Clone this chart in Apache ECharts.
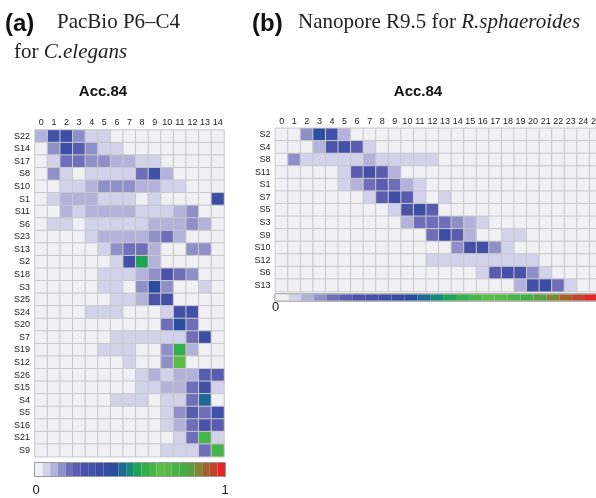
<!DOCTYPE html>
<html>
<head>
<meta charset="utf-8">
<script src="https://cdn.jsdelivr.net/npm/echarts@6/dist/echarts.min.js"></script>
<style>
html,body{margin:0;padding:0;background:#fff;}
#chart{width:596px;height:498px;}
</style>
</head>
<body>
<div id="chart"></div>
<script>
// ---------- data ----------
const leftCols = ['0','1','2','3','4','5','6','7','8','9','10','11','12','13','14'];
const leftRows = ['S22','S14','S17','S8','S10','S1','S11','S6','S23','S13','S2','S18','S3','S25','S24','S20','S7','S19','S12','S26','S15','S4','S5','S16','S21','S9'];
const leftValues = [
  [.10,.30,.32,.14,.06,.06,0,0,0,0,0,0,0,0,0],
  [0,.14,.34,.22,.14,.06,.06,0,0,0,0,0,0,0,0],
  [0,.06,.18,.18,.14,.14,.10,.10,.06,.06,0,0,0,0,0],
  [0,.14,.06,0,.06,.06,.06,.06,.18,.30,.10,0,0,0,0],
  [0,0,.06,.06,.10,.14,.14,.14,.10,.10,.06,.06,0,0,0],
  [0,.06,.10,.10,.10,.06,.06,.06,0,.06,0,0,0,0,.34],
  [0,0,.10,.06,.10,.10,.10,.10,.06,.06,.06,.10,.14,0,0],
  [0,.06,.06,0,.06,.06,.06,.06,.06,.10,.10,.10,.14,.10,0],
  [0,0,0,0,.06,.10,.10,.10,.10,.14,.18,.10,0,0,0],
  [0,0,0,0,0,.06,.14,.18,.18,.10,0,0,.14,.14,0],
  [0,0,0,0,0,0,.06,.30,.54,.10,0,0,0,0,0],
  [0,0,0,0,0,.06,.06,.06,.10,.14,.26,.18,.14,0,0],
  [0,0,0,0,0,.06,.06,0,.14,.42,.14,0,0,.06,0],
  [0,0,0,0,0,0,.06,.06,.10,.26,.30,0,0,0,0],
  [0,0,0,0,.06,.06,.06,0,0,0,.06,.30,.30,0,0],
  [0,0,0,0,0,0,0,0,0,0,.18,.42,.18,0,0],
  [0,0,0,0,0,0,.06,.06,.06,.06,.06,.06,.18,.34,0],
  [0,0,0,0,0,.06,.06,.06,0,0,.14,.58,.10,0,0],
  [0,0,0,0,0,0,0,.06,0,0,.14,.66,0,0,0],
  [0,0,0,0,0,0,0,0,.06,.10,.06,.10,.10,.22,.22],
  [0,0,0,0,0,0,0,0,.06,.06,.10,.10,.18,.30,.06],
  [0,0,0,0,0,0,.06,.06,.06,0,.06,.06,.18,.46,0],
  [0,0,0,0,0,0,0,0,0,0,.06,.14,.22,.18,.30],
  [0,0,0,0,0,0,0,0,0,0,.06,.10,.18,.26,.22],
  [0,0,0,0,0,0,0,0,0,0,0,.06,.18,.62,.06],
  [0,0,0,0,0,0,0,0,0,0,.06,.06,.06,.18,.62]
];
const rightCols = ['0','1','2','3','4','5','6','7','8','9','10','11','12','13','14','15','16','17','18','19','20','21','22','23','24','25'];
const rightRows = ['S2','S4','S8','S11','S1','S7','S5','S3','S9','S10','S12','S6','S13'];
const rightValues = [
  [0,0,.14,.42,.30,.10,0,0,0,0,0,0,0,0,0,0,0,0,0,0,0,0,0,0,0,0],
  [0,0,0,.10,.26,.30,.22,.06,0,0,0,0,0,0,0,0,0,0,0,0,0,0,0,0,0,0],
  [0,.14,.06,.06,.06,.06,.06,.10,.06,.06,.06,.06,.06,0,0,0,0,0,0,0,0,0,0,0,0,0],
  [0,0,0,0,0,.06,.22,.30,.22,.10,0,0,0,0,0,0,0,0,0,0,0,0,0,0,0,0],
  [0,0,0,0,0,.06,.10,.18,.22,.18,.10,.06,0,0,0,0,0,0,0,0,0,0,0,0,0,0],
  [0,0,0,0,0,0,0,.06,.22,.34,.22,.06,0,.06,0,0,0,0,0,0,0,0,0,0,0,0],
  [0,0,0,0,0,0,0,0,0,.06,.26,.34,.22,0,0,0,0,0,0,0,0,0,0,0,0,0],
  [0,0,0,0,0,0,0,0,0,0,.10,.18,.18,.18,.14,.10,.06,0,0,0,0,0,0,0,0,0],
  [0,0,0,0,0,0,0,0,0,0,0,0,.18,.34,.22,.10,0,0,.06,.06,0,0,0,0,0,0],
  [0,0,0,0,0,0,0,0,0,0,0,0,0,0,.14,.30,.30,.14,.06,0,0,0,0,0,0,0],
  [0,0,0,0,0,0,0,0,0,0,0,0,.06,.06,.06,.06,.06,.06,.06,.06,.06,0,0,0,0,0],
  [0,0,0,0,0,0,0,0,0,0,0,0,0,0,0,0,.06,.22,.30,.26,.14,.06,0,0,0,0],
  [0,0,0,0,0,0,0,0,0,0,0,0,0,0,0,0,0,0,0,.10,.30,.34,.18,.06,0,0]
];
// discrete colour scale (25 steps over 0..1)
const colorSteps = ['#f0f0f5','#d2d2ea','#b2b2da','#9090c8','#6e6eb9','#5a5cb0','#4b53a9','#4350a7','#3c4da5','#364ca3','#2a4d9f','#1e6896','#168a78','#1ea456','#34ad4c','#48b54a','#5cbc48','#58b948','#48b246','#42ad44','#5c9c44','#818634','#a2622c','#c3432d','#e62626'];
const scaleLabels = ['0','1'];

// ---------- build ----------
function toCells(values){
  const out = [];
  values.forEach((row, r) => row.forEach((v, c) => out.push([c, r, v])));
  return out;
}
const step = 1 / colorSteps.length;
const pieces = colorSteps.map((col, i) => i === colorSteps.length - 1
  ? {gte: i * step, lte: 1, color: col}
  : {gte: i * step, lt: (i + 1) * step, color: col});

const FONT = '"Liberation Sans", Arial, Helvetica, sans-serif';
const SERIF = '"Liberation Serif", "Times New Roman", serif';

function xAxis(idx, data, margin){
  return {type:'category', gridIndex: idx, data, position:'top',
    axisLine:{show:false}, axisTick:{show:false}, splitLine:{show:false},
    axisLabel:{interval:0, fontSize:9, color:'#222', fontFamily:FONT, margin}};
}
function yAxis(idx, data){
  return {type:'category', gridIndex: idx, data, inverse:true,
    axisLine:{show:false}, axisTick:{show:false}, splitLine:{show:false},
    axisLabel:{interval:0, fontSize:9, color:'#222', fontFamily:FONT, margin:5}};
}
const cellStyle = {borderColor:'#c8c8cc', borderWidth:1};

const chart = echarts.init(document.getElementById('chart'), null, {renderer:'canvas'});
chart.setOption({
  animation:false,
  backgroundColor:'#fff',
  grid:[
    {left:35, top:130, width:189, height:326.7, outerBoundsMode:'none', containLabel:false},
    {left:275.4, top:128.3, width:326.8, height:163.4, outerBoundsMode:'none', containLabel:false}
  ],
  xAxis:[xAxis(0, leftCols, 3), xAxis(1, rightCols, 2)],
  yAxis:[yAxis(0, leftRows), yAxis(1, rightRows)],
  visualMap:[
    {type:'piecewise', seriesIndex:0, pieces, orient:'horizontal', left:35, top:463,
     itemWidth:7.6, itemHeight:13, itemGap:0, itemSymbol:'rect', showLabel:false,
     padding:0, selectedMode:false, hoverLink:false},
    {type:'piecewise', seriesIndex:1, pieces, orient:'horizontal', left:275.4, top:294.3,
     itemWidth:12.9, itemHeight:6.4, itemGap:0, itemSymbol:'rect', showLabel:false,
     padding:0, selectedMode:false, hoverLink:false}
  ],
  series:[
    {type:'heatmap', xAxisIndex:0, yAxisIndex:0, data: toCells(leftValues),
     itemStyle: cellStyle, emphasis:{disabled:true}},
    {type:'heatmap', xAxisIndex:1, yAxisIndex:1, data: toCells(rightValues),
     itemStyle: cellStyle, emphasis:{disabled:true}}
  ],
  graphic:[
    {type:'text', x:5, y:24, style:{text:'(a)', font:'bold 24px ' + FONT, fill:'#111', textVerticalAlign:'middle', verticalAlign:'middle'}},
    {type:'text', x:57, y:22.5, style:{text:'PacBio P6–C4', font:'21px ' + SERIF, fill:'#222', textVerticalAlign:'middle', verticalAlign:'middle'}},
    {type:'text', x:14, y:52.5, style:{text:'{n|for }{i|C.elegans}', font:'21px ' + SERIF, fill:'#222', textVerticalAlign:'middle', verticalAlign:'middle',
      rich:{n:{fontSize:21, fontFamily:SERIF, fill:'#222'}, i:{fontSize:21, fontFamily:SERIF, fontStyle:'italic', fill:'#222'}}}},
    {type:'text', x:252, y:24, style:{text:'(b)', font:'bold 24px ' + FONT, fill:'#111', textVerticalAlign:'middle', verticalAlign:'middle'}},
    {type:'text', x:298, y:22.5, style:{text:'{n|Nanopore R9.5 for }{i|R.sphaeroides}', font:'21px ' + SERIF, fill:'#222', textVerticalAlign:'middle', verticalAlign:'middle',
      rich:{n:{fontSize:21, fontFamily:SERIF, fill:'#222'}, i:{fontSize:21, fontFamily:SERIF, fontStyle:'italic', fill:'#222'}}}},
    {type:'text', x:103, y:91.5, style:{text:'Acc.84', font:'bold 15px ' + FONT, fill:'#111', textAlign:'center', align:'center', textVerticalAlign:'middle', verticalAlign:'middle'}},
    {type:'text', x:418, y:91.5, style:{text:'Acc.84', font:'bold 15px ' + FONT, fill:'#111', textAlign:'center', align:'center', textVerticalAlign:'middle', verticalAlign:'middle'}},
    {type:'rect', shape:{x:34.5, y:462.5, width:191, height:14}, style:{fill:null, stroke:'#999', lineWidth:1}, z:100},
    {type:'rect', shape:{x:274.9, y:293.8, width:330, height:7.4}, style:{fill:null, stroke:'#999', lineWidth:1}, z:100},
    {type:'text', x:36, y:490.5, style:{text:scaleLabels[0], font:'13px ' + FONT, fill:'#222', textAlign:'center', align:'center', textVerticalAlign:'middle', verticalAlign:'middle'}},
    {type:'text', x:225, y:490.5, style:{text:scaleLabels[1], font:'13px ' + FONT, fill:'#222', textAlign:'center', align:'center', textVerticalAlign:'middle', verticalAlign:'middle'}},
    {type:'text', x:275.5, y:307.5, style:{text:scaleLabels[0], font:'13px ' + FONT, fill:'#222', textAlign:'center', align:'center', textVerticalAlign:'middle', verticalAlign:'middle'}}
  ]
});
</script>
</body>
</html>
